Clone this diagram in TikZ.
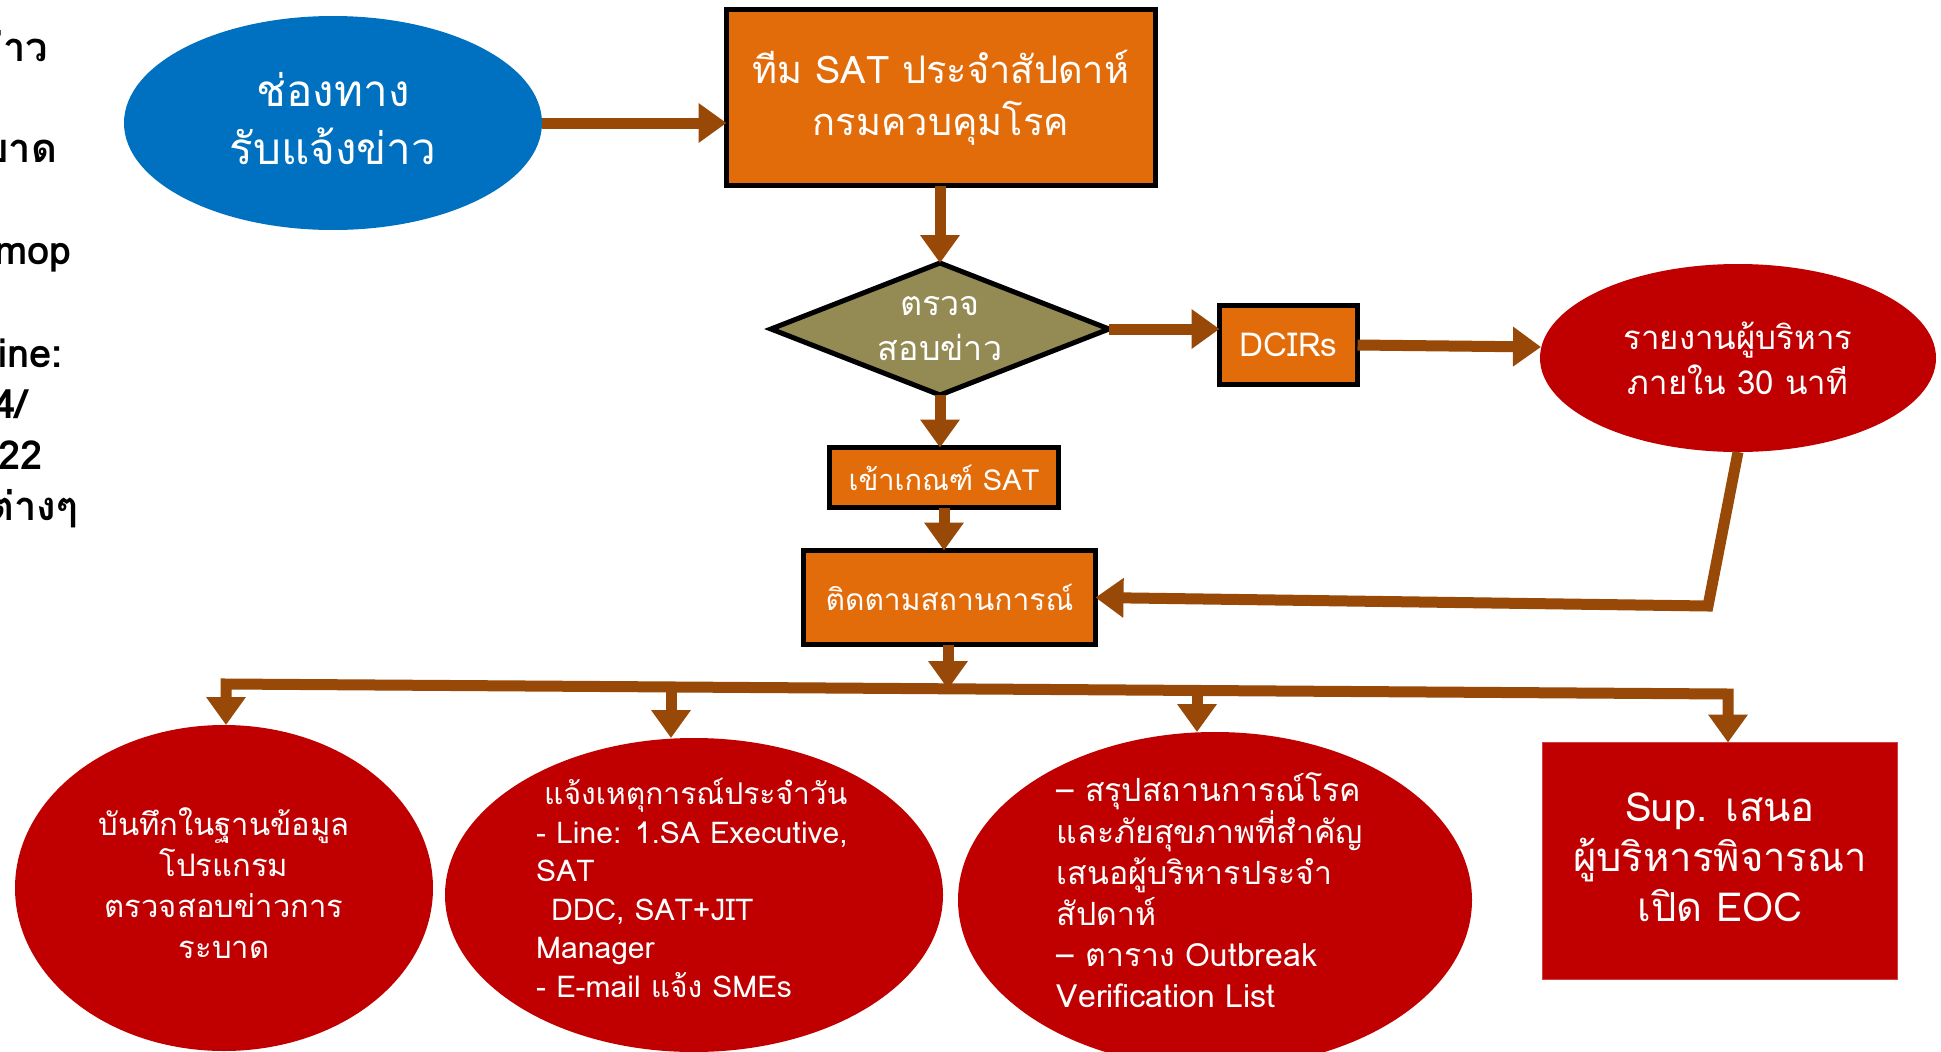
\documentclass[tikz,border=0pt]{standalone}
\usepackage{fontspec}
\setmainfont[Script=Thai]{Loma}
\usetikzlibrary{arrows.meta,shapes.geometric,calc}

\definecolor{chanblue}{HTML}{0070C0}
\definecolor{boxorange}{HTML}{E36C0A}
\definecolor{flowbrown}{HTML}{984807}
\definecolor{checkolive}{HTML}{948A54}
\definecolor{alertred}{HTML}{C00000}

\newcommand{\fs}[2]{\fontsize{#1}{#2}\selectfont}

\begin{document}
\begin{tikzpicture}[x=1pt,y=-1pt,
  every node/.style={inner sep=0pt, outer sep=0pt, text=white},
  tip/.style={-{Triangle[length=28pt,width=38pt]}},
  flow/.style={draw=flowbrown, line width=11pt, line join=miter, tip},
  orangebox/.style={rectangle, fill=boxorange, draw=black, line width=5pt},
  redoval/.style={ellipse, fill=alertred},
  sidetext/.style={anchor=base east, text=black, font=\bfseries\fs{40}{46}}
]
\useasboundingbox (0,0) rectangle (1941,1052);
\clip (0,0) rectangle (1941,1052);
\fill[white] (0,0) rectangle (1941,1052);

% text column cut off at the left edge
\node[sidetext] (s1) at (48,61)  {ข่าว};
\node[sidetext] (s2) at (57,162) {ระบาด};
\node[sidetext] (s3) at (72,264) {mop};
\node[sidetext] (s4) at (63,367) {Line:};
\node[sidetext] (s5) at (27,418) {4/};
\node[sidetext] (s6) at (43,469) {22};
\node[sidetext] (s7) at (78,520) {ต่างๆ};

% top row
\node[ellipse, fill=chanblue, minimum width=418pt, minimum height=214pt] (chan) at (333,123) {};
\node[align=center, font=\fs{44}{58}] (chant) at (333,119) {ช่องทาง\\รับแจ้งข่าว};
\node[orangebox, minimum width=429pt, minimum height=176pt,
      align=center, font=\fs{38}{52}] (team) at (941,97.5) {ทีม SAT ประจำสัปดาห์\\กรมควบคุมโรค};

% check step
\node[diamond, aspect=2.5, fill=checkolive, draw=black, line width=5pt,
      minimum width=338pt, minimum height=132pt,
      align=center, font=\fs{34}{45}] (dia) at (940,329) {ตรวจ\\สอบข่าว};
\node[orangebox, minimum width=138pt, minimum height=79pt,
      font=\fs{33}{40}] (dcirs) at (1288.5,345) {DCIRs};
\node[redoval, minimum width=396pt, minimum height=188pt,
      align=center, font=\fs{33}{45}] (rep) at (1738,358) {รายงานผู้บริหาร\\ภายใน 30 นาที};

% follow-up chain
\node[orangebox, minimum width=229pt, minimum height=60pt,
      font=\fs{29}{36}] (enter) at (944,477.5) {เข้าเกณฑ์ SAT};
\node[orangebox, minimum width=292pt, minimum height=94pt,
      font=\fs{30}{36}] (follow) at (949.5,597.5) {ติดตามสถานการณ์};

% outcomes
\node[redoval, minimum width=418pt, minimum height=326pt] (e1) at (224,888) {};
\node[align=center, font=\fs{31}{41}] (e1t) at (224,883)
      {บันทึกในฐานข้อมูล\\โปรแกรม\\ตรวจสอบข่าวการ\\ระบาด};
\node[redoval, minimum width=498pt, minimum height=314pt] (e2) at (694,895) {};
\node[align=left, font=\fs{30}{38.5}] (e2t) at (692,888)
      {\hspace*{8pt}แจ้งเหตุการณ์ประจำวัน\\- Line: 1.SA Executive,\\SAT\\\hspace*{15pt}DDC, SAT+JIT\\Manager\\- E-mail แจ้ง SMEs};
\node[redoval, minimum width=514pt, minimum height=336pt] (e3) at (1215,900) {};
\node[align=left, font=\fs{32}{41}] (e3t) at (1210,890)
      {– สรุปสถานการณ์โรค\\และภัยสุขภาพที่สำคัญ\\เสนอผู้บริหารประจำ\\สัปดาห์\\– ตาราง Outbreak\\Verification List};
\node[rectangle, fill=alertred, draw=alertred!75!white, line width=1pt,
      minimum width=355pt, minimum height=237pt] (eoc) at (1720,861) {};
\node[align=center, font=\fs{40}{50}] (eoct) at (1720,857)
      {Sup. เสนอ\\ผู้บริหารพิจารณา\\เปิด EOC};

% connectors
\draw[flow] (chan.east) -- (chan.east -| team.west);
\draw[flow] (team.south -| dia.north) -- (dia.north);
\draw[flow] (dia.east) -- (dia.east -| dcirs.west);
\draw[flow] (dcirs.east) -- ($(rep.west)+(1,-11)$);
\draw[flow] (dia.south) -- (dia.south |- enter.north);
\draw[flow] (enter.south) -- (enter.south |- follow.north);
\coordinate (bend) at (1708,606);
\draw[flow] (rep.south) -- (bend) -- (follow.east);

% distribution bus
\coordinate (b1) at (226,684);
\coordinate (b2) at (671,687);
\coordinate (b3) at (948,689);
\coordinate (b4) at (1197,691);
\coordinate (b5) at (1728,694);
\draw[flow] (follow.south -| b3) -- (b3);
\draw[flow, {Triangle[length=28pt,width=38pt]}-{Triangle[length=28pt,width=38pt]}]
  (b1 |- e1.north) -- (b1) -- (b5) -- (b5 |- eoc.north);
\draw[flow] (b2) -- (b2 |- e2.north);
\draw[flow] (b4) -- (b4 |- e3.north);
\end{tikzpicture}
\end{document}
